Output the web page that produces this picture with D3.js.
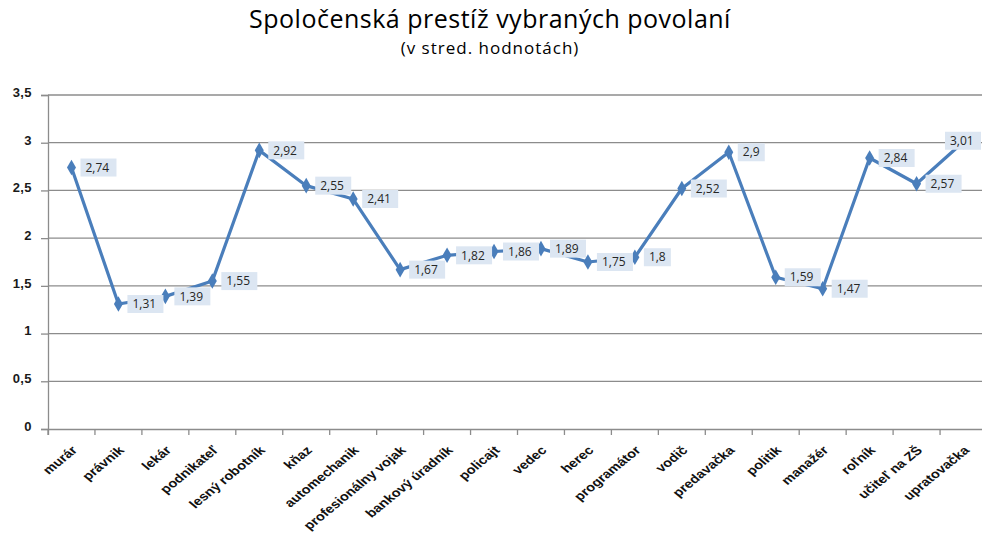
<!DOCTYPE html>
<html>
<head>
<meta charset="utf-8">
<script src="https://cdn.jsdelivr.net/npm/d3@7"></script>
<style>
    body { margin: 0; background: #fff; }
    svg { display: block; font-family: "Open Sans", "Noto Sans", sans-serif; }
</style>
</head>
<body>
<div id="chart"></div>
<script>
var professions = ["murár", "právnik", "lekár", "podnikateľ", "lesný robotník", "kňaz", "automechanik",
    "profesionálny vojak", "bankový úradník", "policajt", "vedec", "herec", "programátor", "vodič",
    "predavačka", "politik", "manažér", "roľník", "učiteľ na ZŠ", "upratovačka"];
var prestige = [2.74, 1.31, 1.39, 1.55, 2.92, 2.55, 2.41, 1.67, 1.82, 1.86, 1.89, 1.75, 1.8, 2.52,
    2.9, 1.59, 1.47, 2.84, 2.57, 3.01];
var yTicks = [0, 0.5, 1, 1.5, 2, 2.5, 3, 3.5];

var width = 982, height = 535;
var margin = {top: 95, left: 48, bottom: 106};
var plotRight = 987; // plot area runs a bit past the picture edge

var commaNum = function (v) { return String(v).replace(".", ","); };

var svg = d3.select("#chart").append("svg")
    .attr("width", width).attr("height", height);

var x = d3.scaleBand().domain(professions).range([margin.left, plotRight]);
var y = d3.scaleLinear().domain([0, 3.5]).range([height - margin.bottom, margin.top]);

// title
svg.append("text").attr("x", 490).attr("y", 28).attr("text-anchor", "middle")
    .style("font-size", "25px").style("letter-spacing", "0.5px").style("fill", "#000")
    .text("Spoločenská prestíž vybraných povolaní");
svg.append("text").attr("x", 490).attr("y", 54).attr("text-anchor", "middle")
    .style("font-size", "17px").style("letter-spacing", "1px").style("fill", "#000")
    .text("(v stred. hodnotách)");

// gridlines
svg.append("g").selectAll("line").data(yTicks.slice(1)).join("line")
    .attr("x1", margin.left).attr("x2", plotRight)
    .attr("y1", function (d) { return y(d); }).attr("y2", function (d) { return y(d); })
    .attr("stroke", "#8c8c8c").attr("stroke-width", 1.3);

// y axis
var yAxis = svg.append("g").attr("transform", "translate(" + margin.left + ",0)")
    .call(d3.axisLeft(y).tickValues(yTicks).tickSize(7).tickPadding(9).tickFormat(commaNum));
yAxis.select(".domain").attr("stroke", "#8c8c8c").attr("stroke-width", 1.3);
yAxis.selectAll(".tick line").attr("stroke", "#8c8c8c").attr("stroke-width", 1.3);
yAxis.selectAll(".tick text").style("font-size", "13px").style("font-weight", "bold")
    .style("letter-spacing", "0.4px").style("fill", "#1a1a1a").attr("dy", "0.1em");

// x axis, labels slanted and widened a little like the source picture
var xAxis = svg.append("g").attr("transform", "translate(0," + y(0) + ")")
    .call(d3.axisBottom(x).tickSize(6).tickFormat(function (d) { return d; }));
xAxis.select(".domain").attr("stroke", "#8c8c8c").attr("stroke-width", 1.3);
xAxis.selectAll(".tick line")
    .attr("transform", "translate(" + (-x.bandwidth() / 2) + ",0)")
    .attr("stroke", "#8c8c8c").attr("stroke-width", 1.3);
xAxis.selectAll(".tick text")
    .attr("text-anchor", "end").attr("x", 0).attr("y", 0).attr("dy", "0.35em")
    .attr("transform", "translate(3,19) scale(1.22,1) rotate(-45)")
    .style("font-size", "12px").style("font-weight", "600")
    .style("fill", "#111");

// line
var cx = function (d, i) { return x(professions[i]) + x.bandwidth() / 2; };
var line = d3.line().x(cx).y(function (d) { return y(d); });
svg.append("path").datum(prestige).attr("d", line)
    .attr("fill", "none").attr("stroke", "#4a7ebb").attr("stroke-width", 3.2)
    .attr("stroke-linejoin", "round");

// diamond markers
svg.append("g").selectAll("path").data(prestige).join("path")
    .attr("d", d3.symbol().type(d3.symbolDiamond).size(70))
    .attr("transform", function (d, i) { return "translate(" + cx(d, i) + "," + y(d) + ")"; })
    .attr("fill", "#4a7ebb");

// data labels (the last one is pushed back inside the picture, over its point)
var boxW = function (d) { return commaNum(d).length > 3 ? 36 : 27; };
var labels = svg.append("g").selectAll("g").data(prestige).join("g")
    .attr("transform", function (d, i) {
        var lx = cx(d, i) + 9, ly = y(d);
        if (lx + boxW(d) > width - 1) { lx = width - 1 - boxW(d); ly -= 1; }
        return "translate(" + lx + "," + ly + ")";
    });
labels.append("rect")
    .attr("x", 0).attr("y", -9).attr("height", 18)
    .attr("width", boxW)
    .attr("fill", "#dce6f2");
labels.append("text")
    .attr("x", 5).attr("dy", "0.35em")
    .style("font-size", "12px").style("fill", "#262626")
    .text(commaNum);
</script>
</body>
</html>
